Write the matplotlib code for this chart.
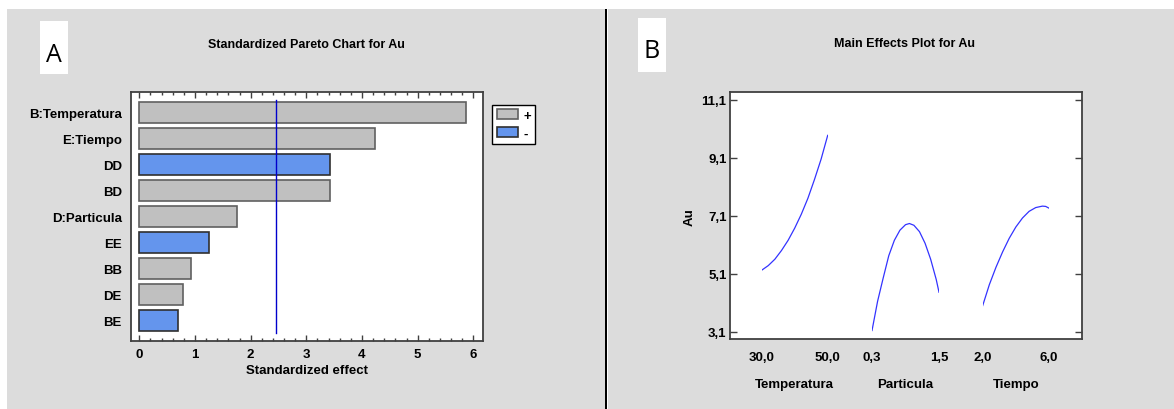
import matplotlib
matplotlib.use("Agg")
import matplotlib.pyplot as plt
from matplotlib.patches import Rectangle, Patch
from matplotlib.ticker import MultipleLocator

plt.rcParams['font.family'] = ['Liberation Sans', 'DejaVu Sans']

# datos del diagrama de Pareto
terms = ['B:Temperatura', 'E:Tiempo', 'DD', 'BD', 'D:Particula', 'EE', 'BB', 'DE', 'BE']
effects = [5.86, 4.23, 3.43, 3.43, 1.76, 1.26, 0.93, 0.78, 0.70]
signs = ['+', '+', '-', '+', '+', '-', '+', '+', '-']
critical = 2.45

# datos de efectos principales
temp_x = [30.0, 32.0, 34.0, 36.0, 38.0, 40.0, 42.0, 44.0, 46.0, 48.0, 50.0]
temp_y = [5.22, 5.38, 5.60, 5.90, 6.25, 6.67, 7.15, 7.70, 8.35, 9.05, 9.87]
part_x = [0.3, 0.4, 0.5, 0.6, 0.7, 0.8, 0.9, 0.97, 1.05, 1.15, 1.25, 1.35, 1.45, 1.5]
part_y = [3.14, 4.15, 4.95, 5.72, 6.25, 6.60, 6.79, 6.83, 6.77, 6.55, 6.15, 5.60, 4.90, 4.46]
tiempo_x = [2.0, 2.4, 2.8, 3.2, 3.6, 4.0, 4.4, 4.8, 5.2, 5.6, 5.8, 6.0]
tiempo_y = [4.00, 4.72, 5.32, 5.85, 6.32, 6.71, 7.02, 7.25, 7.38, 7.43, 7.42, 7.36]
y_ticks = [3.1, 5.1, 7.1, 9.1, 11.1]

W, H = 1174, 410
fig = plt.figure(figsize=(W / 100, H / 100), dpi=100)
fig.patch.set_facecolor('white')


def fx(px):
    return px / W


def fy(py):
    return 1 - py / H


gray_bg = '#dcdcdc'
fig.patches.append(Rectangle((fx(7), 0), fx(598), fy(10), transform=fig.transFigure,
                             facecolor=gray_bg, edgecolor='none', zorder=-10))
fig.patches.append(Rectangle((fx(608), 0), fx(566), fy(10), transform=fig.transFigure,
                             facecolor=gray_bg, edgecolor='none', zorder=-10))
fig.patches.append(Rectangle((fx(605), 0), fx(2.2), fy(10), transform=fig.transFigure,
                             facecolor='black', edgecolor='none', zorder=-9))

# cajas blancas con letras A y B
for x0, x1, y0, y1, ty, letter in [(40, 68, 22, 75, 52, 'A'), (638, 666, 19, 73, 48.5, 'B')]:
    fig.patches.append(Rectangle((fx(x0), fy(y1)), fx(x1 - x0), (y1 - y0) / H,
                                 transform=fig.transFigure, facecolor='white',
                                 edgecolor='none', zorder=-9))
    fig.text(fx((x0 + x1) / 2), fy(ty), letter, ha='center', va='center_baseline',
             fontsize=18, family=['Open Sans', 'DejaVu Sans'], color='black')

fig.text(fx(306), fy(45), 'Standardized Pareto Chart for Au', ha='center', va='center',
         fontsize=9, fontweight='bold')
fig.text(fx(905), fy(44), 'Main Effects Plot for Au', ha='center', va='center',
         fontsize=9, fontweight='bold')

spine_col = '#404040'
gray_bar = '#c0c0c0'
blue_bar = '#6495ed'

# ---- panel A: Pareto ----
ax1 = fig.add_axes([fx(130.7), fy(342), fx(483 - 130.7), (342 - 93.3) / H])
ax1.set_facecolor('white')
pos = list(range(len(terms)))
colors = [gray_bar if s == '+' else blue_bar for s in signs]
edges = ['#606060' if s == '+' else '#303030' for s in signs]
ax1.barh(pos, effects, height=0.83, color=colors, edgecolor=edges, linewidth=1.2)
ax1.set_ylim(8.79, -0.77)
ax1.set_xlim(-0.155, 6.174)
ax1.axvline(critical, ymin=0.032, ymax=0.97, color='#0000cc', lw=1)
ax1.set_yticks(pos)
ax1.set_yticklabels(terms, fontsize=9.5, fontweight='bold')
ax1.tick_params(axis='y', length=0, pad=6.5)
ax1.set_xticks(range(7))
ax1.xaxis.set_minor_locator(MultipleLocator(0.2))
ax1.tick_params(axis='x', which='both', direction='in', top=True, bottom=True,
                colors=spine_col, labelcolor='black', labelsize=9.5, pad=5)
ax1.tick_params(axis='x', which='major', length=4.5, width=1)
ax1.tick_params(axis='x', which='minor', length=2.5, width=1)
for lab in ax1.get_xticklabels():
    lab.set_fontweight('bold')
ax1.set_xlabel('Standardized effect', fontsize=9.5, fontweight='bold', labelpad=3)
for sp in ax1.spines.values():
    sp.set_color(spine_col)
    sp.set_linewidth(1.3)

handles = [Patch(facecolor=gray_bar, edgecolor='#606060', linewidth=1.2),
           Patch(facecolor=blue_bar, edgecolor='#303030', linewidth=1.2)]
leg = fig.legend(handles, ['+', '-'], loc='upper left',
                 bbox_to_anchor=(fx(492), fy(105.7)), bbox_transform=fig.transFigure,
                 frameon=True, fancybox=False, edgecolor='black', framealpha=1,
                 prop={'weight': 'bold', 'size': 9.5}, handlelength=1.6, handleheight=0.8,
                 handletextpad=0.4, borderpad=0.35, labelspacing=0.4, borderaxespad=0)
leg.get_frame().set_linewidth(1)

# ---- panel B: efectos principales ----
ax2 = fig.add_axes([fx(730), fy(340), fx(1081.7 - 730), (340 - 93.3) / H])
ax2.set_facecolor('white')
ax2.set_xlim(0, 1)
ax2.set_ylim(2.848, 11.355)
ax2.set_yticks(y_ticks)
ax2.set_yticklabels([f'{v:.1f}'.replace('.', ',') for v in y_ticks],
                    fontsize=9.5, fontweight='bold')
ax2.tick_params(axis='y', direction='in', left=True, right=True, length=5, width=1,
                colors=spine_col, labelcolor='black', pad=2.5)
ax2.set_xticks([])
ax2.set_ylabel('Au', fontsize=9.5, fontweight='bold', labelpad=4)
for sp in ax2.spines.values():
    sp.set_color(spine_col)
    sp.set_linewidth(1.3)

groups = [
    ('Temperatura', temp_x, temp_y, 0.0901, 0.2778),
    ('Particula', part_x, part_y, 0.4038, 0.5943),
    ('Tiempo', tiempo_x, tiempo_y, 0.7185, 0.9070),
]
for name, xs, ys, g0, g1 in groups:
    sub = ax2.inset_axes([g0, 0, g1 - g0, 1])
    sub.patch.set_visible(False)
    for sp in sub.spines.values():
        sp.set_visible(False)
    sub.plot(xs, ys, color='#3333ff', lw=0.9)
    sub.set_xlim(xs[0], xs[-1])
    sub.set_ylim(ax2.get_ylim())
    sub.set_yticks([])
    sub.set_xticks([xs[0], xs[-1]])
    sub.set_xticklabels([f'{xs[0]:.1f}'.replace('.', ','), f'{xs[-1]:.1f}'.replace('.', ',')],
                        fontsize=9.5, fontweight='bold')
    sub.tick_params(axis='x', length=0, pad=8.5)
    sub.set_xlabel(name, fontsize=9.5, fontweight='bold', labelpad=11)

fig.savefig('out.png', dpi=100)
